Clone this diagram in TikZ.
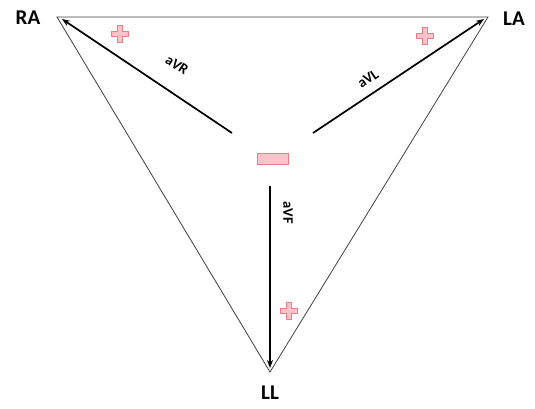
\documentclass[tikz,border=0pt]{standalone}
\usepackage{fontspec}
\setmainfont{Carlito}
\usetikzlibrary{arrows.meta}
\definecolor{pinkfill}{HTML}{F8C4CA}
\definecolor{pinkedge}{HTML}{F07C88}
\tikzset{
  side/.style={draw=black!75, line width=0.8pt},
  lead/.style={draw=black, line width=1.7pt, -{Stealth[length=8pt,width=6pt]}},
  vlabel/.style={font=\bfseries\fontsize{21}{23}\selectfont},
  llabel/.style={font=\bfseries\fontsize{14.5}{16}\selectfont},
  pole/.style={fill=pinkfill, draw=pinkedge, line width=0.8pt},
}
\newcommand{\plussign}[1]{%
  \draw[pole] (#1) ++(-2.5,-8.5) -- ++(5,0) -- ++(0,6) -- ++(6,0) -- ++(0,5) -- ++(-6,0) -- ++(0,6) -- ++(-5,0) -- ++(0,-6) -- ++(-6,0) -- ++(0,-5) -- ++(6,0) -- cycle;}
\begin{document}
\begin{tikzpicture}[x=1pt,y=-1pt]
\useasboundingbox (0,0) rectangle (535,409);
\coordinate (ra) at (57,17);
\coordinate (la) at (488,17);
\coordinate (ll) at (270,372);
\draw[side] (ra) -- (la) -- (ll) -- cycle;
\node[vlabel] (tRA) at (28,18) {RA};
\node[vlabel] (tLA) at (514,19) {LA};
\node[vlabel] (tLL) at (270,393) {LL};
\coordinate (sR) at (232,133);
\coordinate (eR) at (62,19);
\coordinate (sL) at (313,133);
\coordinate (eL) at (484,19);
\coordinate (sF) at (270,186);
\coordinate (eF) at (270,368);
\draw[lead] (sR) -- (eR);
\draw[lead] (sL) -- (eL);
\draw[lead] (sF) -- (eF);
\node[llabel, rotate=-34] (aVR) at (177,65) {aVR};
\node[llabel, rotate=34] (aVL) at (368,79) {aVL};
\node[llabel, rotate=-90] (aVF) at (288,213) {aVF};
\draw[pole] (257,153) rectangle (288,164);
\plussign{120,34}
\plussign{425,36}
\plussign{289,311}
\end{tikzpicture}
\end{document}
